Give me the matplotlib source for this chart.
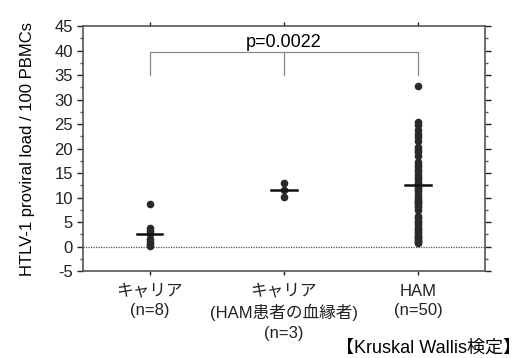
import matplotlib
matplotlib.use("Agg")
import matplotlib.pyplot as plt
from matplotlib.ticker import MultipleLocator

plt.rcParams['font.family'] = ['Liberation Sans', 'Noto Sans CJK JP', 'DejaVu Sans']
plt.rcParams['axes.unicode_minus'] = False

categories = ["キャリア\n(n=8)", "キャリア\n(HAM患者の血縁者)\n(n=3)", "HAM\n(n=50)"]
carrier = [8.6, 3.8, 3.2, 2.5, 1.6, 1.0, 0.5, 0.2]
relatives = [13.0, 11.6, 10.1]
ham = [32.7, 25.5, 24.8, 23.8, 23.0, 22.3, 21.5, 20.3, 19.8, 19.3,
       18.5, 17.2, 16.6, 16.2, 15.6, 15.2, 14.7, 14.2, 13.7, 13.2,
       12.7, 12.2, 11.8, 11.4, 10.8, 10.2, 9.7, 9.3, 8.9, 8.5,
       8.1, 7.5, 6.3, 5.8, 5.0, 4.6, 4.0, 3.6, 3.0, 2.6,
       2.2, 2.0, 1.7, 1.4, 1.2, 1.0, 0.8, 3.3, 5.3, 9.0]
group_means = [2.5, 11.6, 12.6]
p_text = "p=0.0022"
bracket_top = 39.7
bracket_bottom = 35.0
ylabel = "HTLV-1 proviral load / 100 PBMCs"
note = "【Kruskal Wallis検定】"

fig = plt.figure(figsize=(5.25, 3.58), dpi=100)
ax = fig.add_axes([0.1575, 0.243, 0.7665, 0.684])

groups = [carrier, relatives, ham]
for i, vals in enumerate(groups):
    x = i + 1
    ax.plot([x] * len(vals), vals, 'o', color='#2a2a2a', markersize=5.5,
            markeredgewidth=0, zorder=3)
    ax.plot([x - 0.095, x + 0.095], [group_means[i]] * 2, color='#111111',
            lw=1.8, zorder=4)

ax.axhline(0, color='#555555', lw=0.9, ls=(0, (1, 1)), zorder=1)

# bracket
ax.plot([1, 1, 3, 3], [bracket_bottom, bracket_top, bracket_top, bracket_bottom],
        color='#888888', lw=0.9)
ax.plot([2, 2], [bracket_top, bracket_bottom], color='#888888', lw=0.9)
ax.text(2, bracket_top + 0.2, p_text, ha='center', va='bottom', fontsize=13)

ax.set_xlim(0.5, 3.5)
ax.set_ylim(-5, 45)
ax.yaxis.set_major_locator(MultipleLocator(5))
ax.yaxis.set_minor_locator(MultipleLocator(2.5))
ax.set_xticks([1, 2, 3])
ax.set_xticklabels(categories, fontsize=12, linespacing=1.4)
ax.tick_params(axis='y', which='major', labelsize=12, length=4, width=1,
               right=True, pad=3, colors='#222222')
ax.tick_params(axis='y', which='minor', length=2, width=1, right=True,
               colors='#555555')
ax.tick_params(axis='x', which='major', length=3, width=1, top=True,
               pad=6, colors='#222222')
for s in ax.spines.values():
    s.set_color('#555555')
    s.set_linewidth(1.2)

ax.set_ylabel(ylabel, fontsize=12, labelpad=14)
fig.text(0.992, 0.005, note, ha='right', va='bottom', fontsize=13)

fig.savefig("out.png", dpi=100)
